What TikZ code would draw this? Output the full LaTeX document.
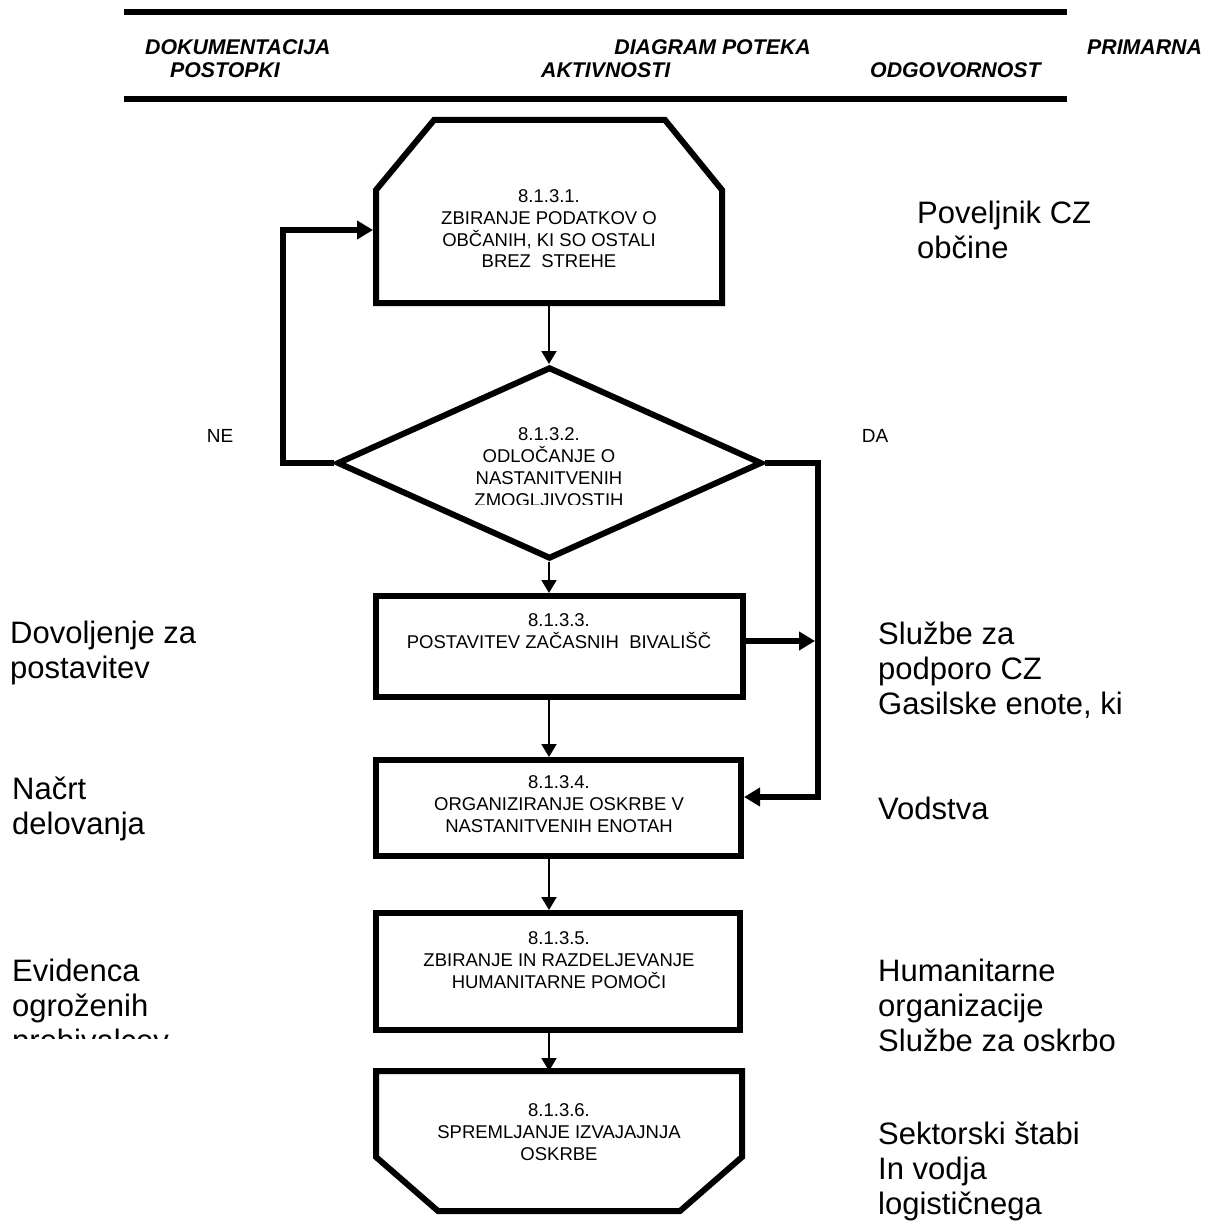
\documentclass[tikz,border=0pt]{standalone}
\usepackage{fontspec}
\setmainfont{Liberation Sans}
\usetikzlibrary{arrows.meta,shapes.geometric,calc}
\begin{document}
\begin{tikzpicture}[x=1pt,y=-1pt,
  heavy/.style={line width=6pt, line join=miter},
  headrule/.style={line width=6pt},
  area/.style={draw=none, inner sep=0pt, outer sep=0pt},
  boxnode/.style={draw, line width=6pt, inner sep=0pt},
  flowarrow/.style={line width=2pt, -{Triangle[width=15pt,length=13pt]}},
  looparrow/.style={line width=6pt, -{Triangle[width=18pt,length=16pt]}},
  boxtext/.style={font=\fontsize{18.5}{21.7}\selectfont, align=center, inner sep=0pt, anchor=base},
  sidetext/.style={font=\fontsize{31}{35}\selectfont, align=left, inner sep=0pt, anchor=base west},
  headtext/.style={font=\fontsize{21.3}{23}\selectfont\bfseries\itshape, inner sep=0pt},
  smalltext/.style={font=\fontsize{19}{22}\selectfont, inner sep=0pt}
]
\useasboundingbox (0,0) rectangle (1204,1230);

% header
\coordinate (r1a) at (124,12);
\coordinate (r1b) at (1067,12);
\coordinate (r2a) at (124,99.5);
\coordinate (r2b) at (1067,99.5);
\draw[headrule] (r1a) -- (r1b);
\draw[headrule] (r2a) -- (r2b);
\node[headtext, anchor=base west] (h1) at (145,55) {DOKUMENTACIJA};
\node[headtext, anchor=base west] (h2) at (170,78) {POSTOPKI};
\node[headtext, anchor=base east] (h3) at (811,55) {DIAGRAM POTEKA};
\node[headtext, anchor=base west] (h4) at (541,78) {AKTIVNOSTI};
\node[headtext, anchor=base west] (h5) at (870,78) {ODGOVORNOST};
\node[headtext, anchor=base west] (h6) at (1087,55) {PRIMARNA};

% box 1 (chamfered top)
\node[area, minimum width=346pt, minimum height=183pt] (b1) at (549,211.5) {};
\draw[heavy] ($(b1.north west)+(0,70)$) -- ($(b1.north west)+(58,0)$)
  -- ($(b1.north east)+(-57,0)$) -- ($(b1.north east)+(0,70)$)
  -- (b1.south east) -- (b1.south west) -- cycle;
\node[boxtext] (t1) at (549,268) {8.1.3.1.\\ZBIRANJE PODATKOV O\\OBČANIH, KI SO OSTALI\\BREZ\ \ STREHE};

% diamond
\node[diamond, draw, line width=6pt, inner sep=0pt, minimum width=425pt, minimum height=192pt] (d) at (549.5,463) {};
\begin{scope}
  \clip (330,400) rectangle (770,504);
  \node[boxtext] (t2) at (549,506) {8.1.3.2.\\ODLOČANJE O\\NASTANITVENIH\\ZMOGLJIVOSTIH};
\end{scope}

% box 3
\node[boxnode, minimum width=367pt, minimum height=101pt] (b3) at (559.5,646.5) {};
\node[boxtext] (t3) at (559,648) {8.1.3.3.\\POSTAVITEV ZAČASNIH\ \ BIVALIŠČ};

% box 4
\node[boxnode, minimum width=365pt, minimum height=96pt] (b4) at (558.5,808) {};
\node[boxtext] (t4) at (559,832) {8.1.3.4.\\ORGANIZIRANJE OSKRBE V\\NASTANITVENIH ENOTAH};

% box 5
\node[boxnode, minimum width=364pt, minimum height=117pt] (b5) at (558,971.5) {};
\node[boxtext] (t5) at (559,988) {8.1.3.5.\\ZBIRANJE IN RAZDELJEVANJE\\HUMANITARNE POMOČI};

% box 6 (chamfered bottom)
\node[area, minimum width=366pt, minimum height=140pt] (b6) at (559,1141) {};
\draw[heavy] (b6.north west) -- (b6.north east) -- ($(b6.south east)+(0,-54)$)
  -- ($(b6.south east)+(-62,0)$) -- ($(b6.south west)+(62,0)$)
  -- ($(b6.south west)+(0,-54)$) -- cycle;
\node[boxtext] (t6) at (559,1160) {8.1.3.6.\\SPREMLJANJE IZVAJAJNJA\\OSKRBE};

% vertical flow arrows
\coordinate (ax) at (549,0);
\draw[flowarrow] (b1.south -| ax) -- (d.north -| ax);
\draw[flowarrow] (d.south -| ax) -- (b3.north -| ax);
\draw[flowarrow] (b3.south -| ax) -- (b4.north -| ax);
\draw[flowarrow] (b4.south -| ax) -- (b5.north -| ax);
\draw[flowarrow] (b5.south -| ax) -- (b6.north -| ax);

% NE loop
\coordinate (ne1) at (283,463);
\coordinate (ne2) at (283,230);
\draw[looparrow] (d.west) -- (ne1) -- (ne2) -- ($(b1.west)+(-3,18.5)$);
\node[smalltext] (ne) at (220,436) {NE};

% DA loop
\coordinate (da1) at (818,463);
\coordinate (da2) at (818,797);
\draw[looparrow] (d.east) -- (da1) -- (da2) -- (b4.east |- da2);
\draw[looparrow, shorten >=3pt] ($(b3.east)+(0,-5.5)$) -- ($(b3.east -| da1)+(0,-5.5)$);
\node[smalltext] (da) at (875,436) {DA};

% right column
\node[sidetext] (r1) at (917,259) {Poveljnik CZ\\občine};
\node[sidetext] (r2) at (878,714) {Službe za\\podporo CZ\\Gasilske enote, ki};
\node[sidetext] (r3) at (878,819) {Vodstva};
\node[sidetext] (r4) at (878,1051) {Humanitarne\\organizacije\\Službe za oskrbo};
\node[sidetext] (r5) at (878,1214) {Sektorski štabi\\In vodja\\logističnega};

% left column
\node[sidetext] (l1) at (10,678) {Dovoljenje za\\postavitev};
\node[sidetext] (l2) at (12,834) {Načrt\\delovanja};
\begin{scope}
  \clip (0,940) rectangle (300,1038);
  \node[sidetext] (l3) at (12,1051) {Evidenca\\ogroženih\\prebivalcev};
\end{scope}
\end{tikzpicture}
\end{document}
